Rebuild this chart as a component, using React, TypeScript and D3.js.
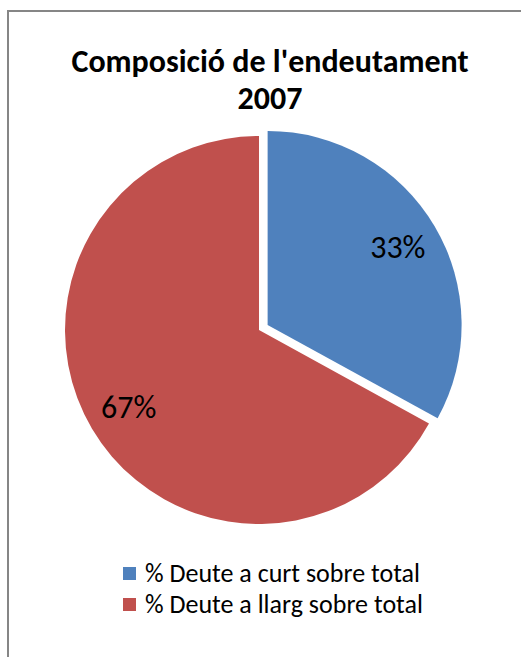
import React from "react";
import * as d3 from "d3";

const categories = ["% Deute a curt sobre total", "% Deute a llarg sobre total"];
const values = [33, 67];
const labels = ["33%", "67%"];
const colors = ["#4F81BD", "#C0504D"];
const titleLines = ["Composició de l'endeutament", "2007"];

const W = 521;
const H = 657;
const FONT = "Carlito, Calibri, Lato, sans-serif";

export default function App() {
  const cx = 259;
  const cy = 330;
  const r = 194;
  const explode = 10;

  const pie = d3.pie<number>().sort(null).value((d) => d)(values);
  const arc = d3.arc<d3.PieArcDatum<number>>().innerRadius(0).outerRadius(r);
  const labelArc = d3
    .arc<d3.PieArcDatum<number>>()
    .innerRadius(r * 0.78)
    .outerRadius(r * 0.78);

  return (
    <svg
      width={W}
      height={H}
      style={{ position: "absolute", left: 0, top: 0, background: "#fff" }}
    >
      <rect x={0} y={0} width={W} height={H} fill="#fff" />
      <rect
        x={8}
        y={11}
        width={W + 20}
        height={H + 20}
        fill="none"
        stroke="#868686"
        strokeWidth={2}
      />
      <g fontFamily={FONT} fontWeight="bold" fontSize={32} textAnchor="middle" fill="#000">
        {titleLines.map((t, i) => (
          <text key={i} x={270} y={72 + i * 37}>
            {t}
          </text>
        ))}
      </g>
      <g transform={`translate(${cx},${cy})`}>
        {pie.map((d, i) => {
          const mid = (d.startAngle + d.endAngle) / 2;
          const off = i === 0 ? explode : 0;
          const dx = Math.sin(mid) * off;
          const dy = -Math.cos(mid) * off;
          const [lx, ly] = labelArc.centroid(d);
          return (
            <g key={i} transform={`translate(${dx},${dy})`}>
              <path d={arc(d) || ""} fill={colors[i]} />
              <text
                x={lx}
                y={ly}
                textAnchor="middle"
                dominantBaseline="central"
                fontFamily={FONT}
                fontSize={32}
                fill="#000"
              >
                {labels[i]}
              </text>
            </g>
          );
        })}
      </g>
      <g fontFamily={FONT} fontSize={26} fill="#000">
        {categories.map((c, i) => (
          <g key={i} transform={`translate(123,${567 + i * 31})`}>
            <rect x={0} y={0} width={13} height={13} fill={colors[i]} />
            <text x={22} y={15}>
              {c}
            </text>
          </g>
        ))}
      </g>
    </svg>
  );
}
